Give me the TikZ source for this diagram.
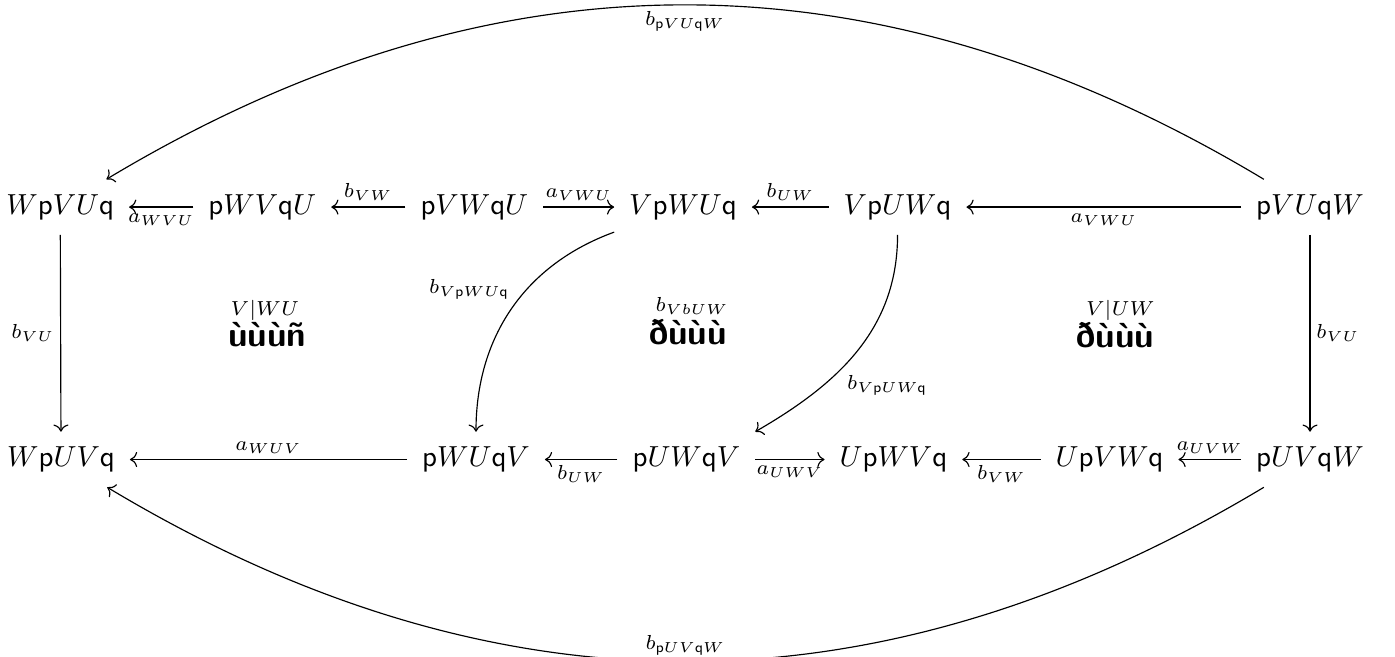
\documentclass[tikz,border=0pt]{standalone}
\usepackage{amsmath, amssymb}
\usepackage{tikz}
\usetikzlibrary{arrows.meta,calc,positioning}
\newcommand{\lb}{\mathsf{p}}
\newcommand{\rb}{\mathsf{q}}

\begin{document}
\begin{tikzpicture}[>={Computer Modern Rightarrow},
    obj/.style={inner sep=5pt},
    lbl/.style={inner sep=2pt, font=\scriptsize},
    cell/.style={inner sep=0pt, font=\large\sffamily\bfseries}]
                \useasboundingbox (0,0) rectangle (16.91,7.96);
                \def\ya{5.45}
                \def\yb{2.39}
                %Top row
                \node[obj] (u1) at (0.73,\ya) {$W\lb VU\rb$};
                \node[obj] (u2) at (3.18,\ya) {$\lb WV\rb U$};
                \node[obj] (u3) at (5.75,\ya) {$\lb VW\rb U$};
                \node[obj] (u4) at (8.28,\ya) {$V\lb WU\rb$};
                \node[obj] (u5) at (10.88,\ya) {$V\lb UW\rb$};
                \node[obj] (u7) at (15.88,\ya) {$\lb VU\rb W$};
                %Bottom row
                \node[obj] (d1) at (0.74,\yb) {$W\lb UV\rb$};
                \node[obj] (d3) at (5.77,\yb) {$\lb WU\rb V$};
                \node[obj] (d4) at (8.32,\yb) {$\lb UW\rb V$};
                \node[obj] (d5) at (10.83,\yb) {$U\lb WV\rb$};
                \node[obj] (d6) at (13.45,\yb) {$U\lb VW\rb$};
                \node[obj] (d7) at (15.88,\yb) {$\lb UV\rb W$};
                %Cells
                \node[cell] (c1) at (3.24,3.90) {ùùùñ};
                \node[lbl] (l1) at (3.21,4.20) {$V|WU$};
                \node[cell] (c2) at (8.34,3.93) {ðùùù};
                \node[lbl] (l2) at (8.39,4.25) {$b_{VbUW}$};
                \node[cell] (c3) at (13.52,3.90) {ðùùù};
                \node[lbl] (l3) at (13.58,4.20) {$V|UW$};
                %Top arrows
                \draw[->] (u2) -- node[lbl,below] {$a_{WVU}$} (u1);
                \draw[->] (u3) -- node[lbl,above] {$b_{VW}$} (u2);
                \draw[->] (u3) -- node[lbl,above] {$a_{VWU}$} (u4);
                \draw[->] (u5) -- node[lbl,above] {$b_{UW}$} (u4);
                \draw[->] (u7) -- node[lbl,below] {$a_{VWU}$} (u5);
                %Bottom arrows
                \draw[->] (d3) -- node[lbl,above] {$a_{WUV}$} (d1);
                \draw[->] (d4) -- node[lbl,below] {$b_{UW}$} (d3);
                \draw[->] (d4) -- node[lbl,below] {$a_{UWV}$} (d5);
                \draw[->] (d6) -- node[lbl,below] {$b_{VW}$} (d5);
                \draw[->] (d7) -- node[lbl,above] {$a_{UVW}$} (d6);
                %Sides
                \draw[->] (u1) -- node[lbl,left] {$b_{VU}$} (d1);
                \draw[->] (u7) -- node[lbl,right] {$b_{VU}$} (d7);
                %Curves
                \draw[->] (u7) to[bend right=31] node[lbl,below] {$b_{\lb VU\rb W}$} (u1);
                \draw[->] (d7) to[bend left=31] node[lbl,above] {$b_{\lb UV\rb W}$} (d1);
                \draw[->] (u4) to[out=200,in=90] node[lbl,pos=0.4,left=4pt] {$b_{V\lb WU\rb}$} (d3);
                \draw[->] (u5) to[out=-90,in=30] node[lbl,pos=0.6,below right] {$b_{V\lb UW\rb}$} (d4.north east);
\end{tikzpicture}
\end{document}
